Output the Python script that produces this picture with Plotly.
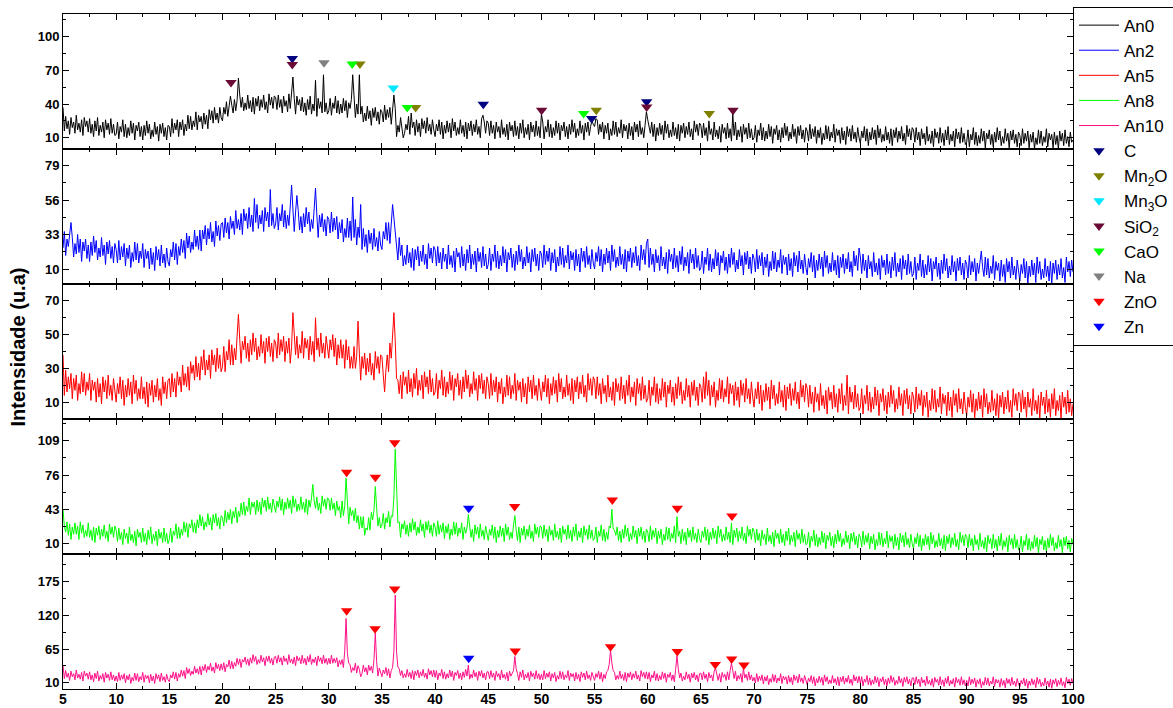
import numpy as np
import plotly.graph_objects as go
from plotly.subplots import make_subplots

# 2-theta sampling grid (degrees), 0.125 deg step, 5..100
two_theta = np.linspace(5, 100, 761)

# intensities, one row per 5-degree block (40 samples each) + final point at 100
an0_rows = [
    [37,16,29,18,25,13,28,19,24,14,30,17,23,15,26,12,28,20,25,15,27,14,22,11,25,16,28,12,21,15,24,10,26,17,23,13,27,14,22,12],
    [13,24,9,20,15,26,11,22,10,19,12,25,14,23,8,21,16,24,11,20,8,21,12,25,14,22,9,17,11,24,13,20,7,22,14,23,11,19,8,21],
    [20,11,27,14,23,17,26,11,24,17,26,12,22,16,30,18,29,17,25,20,33,17,30,24,29,18,32,22,30,18,35,26,34,23,37,26,32,23,37,28],
    [25,37,31,42,29,41,47,39,32,44,34,43,63,48,37,46,34,41,35,48,36,43,33,46,31,45,38,47,34,44,37,48,35,42,32,49,39,46,36,47],
    [46,35,48,37,44,32,47,38,43,33,49,36,50,64,45,31,47,39,44,34,46,33,41,30,44,35,47,31,40,34,61,29,45,36,42,32,66,33,41,31],
    [34,45,30,41,36,47,32,43,31,40,32,45,34,43,28,41,36,44,66,40,28,40,31,66,31,38,24,32,25,38,27,34,21,36,28,37,25,33,22,35],
    [33,24,39,26,35,28,37,22,38,48,36,11,21,15,28,16,10,14,22,17,29,13,32,19,24,12,26,15,23,11,27,18,25,14,28,16,22,13,26,17],
    [11,22,16,26,13,24,9,21,14,25,15,23,10,27,16,24,12,19,13,26,14,21,11,24,9,23,16,25,12,22,15,26,13,20,10,27,30,24,14,25],
    [23,12,25,14,21,9,24,15,20,10,26,13,19,11,22,8,24,16,21,11,25,12,20,9,23,14,26,10,19,13,22,8,24,15,21,11,25,12,20,10],
    [31,24,9,20,15,26,11,22,10,19,12,25,14,23,8,21,16,24,11,20,9,22,13,26,15,23,10,18,12,25,14,21,8,23,15,24,12,20,25,22],
    [20,27,26,13,22,15,24,9,21,14,23,8,18,12,25,13,24,11,19,14,26,10,22,16,21,9,23,12,20,8,24,15,22,11,25,13,19,10,23,33],
    [26,20,14,24,11,22,7,19,12,23,13,21,8,25,14,22,10,17,11,24,12,19,9,22,7,21,14,23,10,20,13,24,11,18,8,25,15,22,12,23],
    [21,10,23,12,19,7,25,13,18,8,24,11,17,9,20,6,22,14,19,9,23,10,18,7,31,12,24,8,17,11,20,6,22,13,19,9,23,10,18,8],
    [10,21,6,17,12,23,8,19,7,16,9,22,11,20,5,18,13,21,8,17,6,19,10,23,12,20,7,15,9,22,11,18,5,20,12,21,9,17,6,19],
    [16,7,22,9,18,11,20,5,17,10,19,4,14,8,21,9,20,7,15,10,22,6,18,12,17,5,19,8,16,4,20,11,18,7,21,9,15,6,19,10],
    [5,16,10,20,7,18,3,15,8,19,9,17,4,21,10,18,6,13,7,20,8,15,5,18,3,17,10,19,6,16,9,20,7,14,4,21,11,18,8,19],
    [17,6,19,8,15,3,18,9,14,4,20,7,13,5,16,2,18,10,15,5,19,6,14,3,17,8,20,4,13,7,16,2,18,9,15,5,19,6,14,4],
    [6,17,2,13,8,19,4,15,3,12,5,18,7,16,1,14,9,17,4,13,2,15,6,19,8,16,3,11,5,18,7,14,1,16,8,17,5,13,2,15],
    [12,3,18,5,14,7,16,1,13,6,15,0,10,4,17,5,16,3,11,6,18,2,14,8,13,1,15,4,12,0,16,7,14,3,17,5,11,2,15,6],
    [8],
]

an2_rows = [
    [24,35,19,30,25,35,41,31,18,27,20,33,21,30,15,28,22,30,17,26,15,28,19,32,21,29,16,24,18,31,19,26,13,28,20,29,17,25,14,27],
    [23,14,29,16,25,18,27,12,24,17,26,11,21,15,28,16,27,14,22,17,27,11,23,17,22,10,24,13,21,9,25,16,23,12,26,14,20,11,24,15],
    [12,23,18,28,16,27,13,25,19,30,21,29,17,34,24,32,21,28,23,36,25,32,23,36,22,36,30,39,26,37,30,41,28,35,25,42,32,39,29,40],
    [41,31,44,34,41,30,45,37,42,33,49,37,43,36,47,33,50,42,47,37,51,38,46,35,57,41,53,37,46,40,49,35,51,42,48,38,63,39,47,37],
    [40,51,36,47,42,53,38,49,37,46,39,52,66,50,35,48,59,49,36,45,34,47,38,51,40,48,35,43,37,50,64,46,31,46,38,47,35,43,32,45],
    [43,34,48,35,44,36,45,30,41,34,43,28,37,31,44,31,42,29,58,31,43,26,38,31,53,23,37,25,33,21,36,27,34,23,37,25,31,22,35,26],
    [23,35,30,41,29,41,27,40,53,44,35,30,16,31,19,26,12,19,13,26,14,21,11,24,9,23,16,25,12,22,15,26,13,20,10,27,17,24,14,25],
    [23,12,25,14,21,10,24,15,20,10,26,13,19,11,22,8,24,18,21,11,25,12,20,9,23,14,26,10,20,13,22,8,24,15,21,11,25,12,20,10],
    [13,24,9,20,15,26,11,22,10,19,12,25,14,23,8,21,16,24,11,20,9,22,13,26,15,23,10,18,12,25,14,21,8,23,15,24,12,20,9,22],
    [20,11,26,13,22,15,24,9,21,14,23,8,18,12,25,13,24,11,19,14,26,10,22,16,21,9,23,12,20,8,24,15,22,11,25,13,19,10,23,14],
    [10,21,15,25,12,23,8,20,13,24,14,22,9,26,15,23,11,18,12,25,13,20,10,23,8,22,15,24,11,21,14,25,12,19,9,26,16,23,13,27],
    [30,11,24,13,20,8,23,14,19,9,25,12,18,10,21,7,23,15,20,10,24,11,19,8,22,13,25,9,18,12,21,7,23,14,20,10,24,11,19,9],
    [11,22,7,18,13,24,9,20,8,17,10,23,12,21,6,19,14,22,9,18,7,20,11,24,13,21,8,16,10,23,12,19,6,21,13,22,10,18,7,20],
    [17,8,23,10,19,12,21,6,18,11,20,5,15,9,22,10,21,8,16,11,23,7,19,13,18,6,20,9,17,5,21,12,19,8,22,10,16,7,20,11],
    [6,17,11,21,8,19,4,16,9,20,10,18,5,22,11,19,7,14,8,21,9,16,6,19,4,18,11,20,7,17,10,21,8,15,5,22,12,19,9,24],
    [18,7,20,9,16,4,19,10,15,5,21,8,14,6,17,3,19,11,16,6,20,7,15,4,18,9,21,5,14,8,17,3,19,10,16,6,20,7,15,5],
    [7,18,3,14,9,20,5,16,4,13,6,19,8,17,2,15,10,18,5,14,3,16,7,20,9,17,4,12,6,19,8,15,2,17,9,18,6,14,3,16],
    [13,4,19,6,15,8,17,2,14,7,16,22,11,5,18,6,17,4,12,7,19,3,15,9,14,2,16,5,13,1,17,8,15,4,18,6,12,3,16,7],
    [2,13,7,17,4,15,0,12,5,16,6,14,1,18,7,15,3,10,4,17,5,12,2,15,0,14,7,16,3,13,6,17,4,11,1,18,8,15,5,16],
    [8],
]

an5_rows = [
    [38,14,29,16,25,18,27,12,24,17,26,11,21,15,28,16,27,14,22,17,27,11,23,17,22,10,24,13,21,9,25,16,23,12,26,14,20,11,24,15],
    [10,21,15,25,12,23,8,20,13,24,14,22,9,26,15,23,11,18,12,25,12,19,9,22,7,21,14,23,10,20,13,24,11,18,8,25,15,22,12,23],
    [24,13,27,16,24,13,28,20,25,16,32,20,27,19,31,17,34,27,32,23,37,25,33,23,37,29,41,26,35,29,38,24,41,32,38,28,42,30,38,28],
    [31,43,28,40,35,47,32,44,32,42,35,49,62,47,33,46,41,49,36,45,34,47,38,51,40,48,35,43,37,50,39,46,33,48,40,49,37,45,34,47],
    [45,36,51,38,47,40,49,34,46,39,48,33,43,63,50,38,49,36,44,39,52,36,48,42,47,35,49,38,46,34,60,41,48,37,51,39,45,36,49,40],
    [36,47,41,50,37,48,32,44,36,47,36,44,30,47,35,43,30,37,30,43,30,37,58,39,23,37,30,39,26,36,28,39,26,33,23,40,30,37,27,38],
    [37,26,16,29,38,28,45,36,48,63,46,24,23,15,26,12,28,20,25,15,29,16,24,13,27,18,30,14,23,17,26,12,28,19,25,15,29,16,24,14],
    [16,27,12,23,18,29,14,25,13,22,15,28,17,26,11,24,19,27,14,23,12,25,16,29,18,26,13,21,15,28,17,24,11,26,18,27,15,23,12,25],
    [21,12,27,14,23,16,25,10,22,15,24,9,19,13,26,14,25,12,20,15,27,11,23,17,22,10,24,13,21,9,25,16,23,12,26,14,20,11,24,15],
    [11,22,16,26,13,24,9,21,14,25,15,23,10,27,16,24,12,19,13,26,14,21,11,24,9,23,16,25,12,22,15,26,13,20,10,27,17,24,14,25],
    [23,12,25,14,21,9,24,15,20,10,26,13,19,11,22,8,24,16,21,11,25,12,20,9,23,14,26,10,19,13,22,8,24,15,21,11,25,12,20,10],
    [12,23,8,19,14,25,10,21,9,18,11,24,13,22,7,20,15,23,10,19,8,21,12,25,14,22,9,17,11,24,13,20,7,22,14,23,11,19,8,21],
    [19,10,25,12,28,14,23,8,20,13,22,7,17,11,24,12,23,10,18,13,25,9,21,15,20,8,22,11,19,7,23,14,21,10,24,12,18,9,22,13],
    [7,18,12,22,9,20,5,17,10,21,11,19,6,23,12,20,8,15,9,22,10,17,7,20,5,19,12,21,8,18,11,22,9,16,6,23,13,20,10,21],
    [18,7,20,9,16,4,19,10,15,5,21,8,14,6,17,3,19,11,16,6,20,7,15,4,18,9,21,5,14,8,26,3,19,10,16,6,20,7,15,5],
    [7,18,3,14,9,20,5,16,4,13,6,19,8,17,2,15,10,18,5,14,3,16,7,20,9,17,4,12,6,19,8,15,2,17,9,18,6,14,3,16],
    [13,4,19,6,15,8,17,2,14,7,16,1,11,5,18,6,17,4,12,7,19,3,15,9,14,2,16,5,13,1,17,8,15,4,18,6,12,3,16,7],
    [2,13,7,17,4,15,0,12,5,16,6,14,1,18,7,15,3,10,4,17,5,12,2,15,0,14,7,16,3,13,6,17,4,11,1,18,8,15,5,16],
    [15,4,17,6,13,1,16,7,12,2,18,5,11,3,14,0,16,8,13,3,17,4,12,1,15,6,18,2,11,5,14,0,16,7,13,3,17,4,12,2],
    [9],
]

an8_rows = [
    [43,27,21,31,18,29,14,26,19,30,19,27,14,31,20,28,16,23,17,30,16,23,13,26,11,25,18,27,14,24,17,28,15,22,12,29,19,26,16,27],
    [23,12,25,14,21,9,24,15,20,10,26,13,19,11,22,8,24,16,21,11,25,12,20,9,23,14,26,10,19,13,22,8,24,15,21,11,25,12,20,10],
    [14,25,11,22,18,29,15,26,15,24,18,31,21,30,16,29,25,33,21,30,20,33,25,38,27,36,23,31,26,39,28,35,23,38,30,39,27,35,24,37],
    [35,27,42,30,40,33,43,29,41,35,45,30,41,36,49,38,50,37,46,41,54,38,50,45,50,38,52,41,50,38,54,45,52,41,55,43,49,40,53,44],
    [40,51,45,55,42,53,38,50,43,54,44,52,39,56,45,53,41,48,42,55,43,50,40,53,38,52,45,54,67,51,44,55,42,49,39,56,46,53,43,54],
    [53,42,54,43,49,37,51,42,46,35,51,37,46,73,50,29,45,37,42,32,44,30,37,24,36,25,36,18,25,23,35,23,40,33,42,65,44,27,35,25],
    [28,39,24,35,30,41,26,37,36,55,101,60,30,31,16,29,24,32,19,28,17,30,21,34,23,31,18,26,20,33,22,29,16,31,23,32,20,28,17,30],
    [26,17,32,19,28,21,30,15,27,20,29,14,24,18,31,19,30,17,25,20,30,14,26,20,25,38,27,16,24,12,28,19,26,15,29,17,23,14,27,18],
    [13,24,18,28,15,26,11,23,16,27,17,25,12,29,18,26,14,21,15,28,37,23,13,26,11,25,18,27,14,24,17,28,15,22,12,29,19,26,16,27],
    [26,15,28,17,24,12,27,18,23,13,29,16,22,14,25,11,27,19,24,14,28,15,23,12,26,17,29,13,22,16,25,11,27,18,24,14,28,15,23,13],
    [15,26,11,22,17,28,13,24,12,21,14,27,25,43,24,23,18,26,13,22,11,24,15,28,17,25,12,20,14,27,16,23,10,25,17,26,14,22,11,24],
    [21,12,27,14,23,16,25,10,22,15,24,9,19,13,26,14,25,12,20,15,27,11,36,17,22,10,24,13,21,9,25,16,23,12,26,14,20,11,24,15],
    [11,22,16,26,13,24,9,21,14,25,15,23,10,27,16,24,12,19,13,26,14,21,11,30,9,23,16,25,12,22,15,26,13,20,10,27,17,24,14,25],
    [22,11,24,13,20,8,23,14,19,9,25,12,18,10,21,7,23,15,20,10,24,11,19,8,22,13,25,9,18,12,21,7,23,14,20,10,24,11,19,9],
    [10,21,6,17,12,23,8,19,7,16,9,22,11,20,5,18,13,21,8,17,6,19,10,23,12,20,7,15,9,22,11,18,5,20,12,21,9,17,6,19],
    [16,7,22,9,18,11,20,5,17,10,19,4,14,8,21,9,20,7,15,10,22,6,18,12,17,5,19,8,16,4,20,11,18,7,21,9,15,6,19,10],
    [5,16,10,20,7,18,3,15,8,19,9,17,4,21,10,18,6,13,7,20,8,15,5,18,3,17,10,19,6,16,9,20,7,14,4,21,11,18,8,19],
    [17,6,19,8,15,3,18,9,14,4,20,7,13,5,16,2,18,10,15,5,19,6,14,3,17,8,20,4,13,7,16,2,18,9,15,5,19,6,14,4],
    [6,17,2,13,8,19,4,15,3,12,5,18,7,16,1,14,9,17,4,13,2,15,6,19,8,16,3,11,5,18,7,14,1,16,8,17,5,13,2,15],
    [9],
]

an10_rows = [
    [39,17,30,19,26,14,29,20,25,15,31,18,24,16,27,13,29,21,26,16,28,15,23,12,26,17,29,13,22,16,25,11,27,18,24,14,28,15,23,13],
    [21,12,27,14,23,16,25,10,22,15,24,9,19,13,26,14,25,12,20,15,27,11,23,17,22,10,24,13,21,9,25,16,23,12,26,14,20,11,24,15],
    [12,23,18,28,16,27,13,25,19,31,21,30,17,35,25,33,22,29,24,37,26,33,24,37,23,37,30,40,27,37,31,42,29,36,26,43,33,40,30,41],
    [31,43,28,40,36,47,33,45,33,43,37,50,40,49,35,48,44,52,40,49,38,51,42,56,45,53,40,48,42,55,44,51,38,53,45,54,42,50,39,52],
    [53,42,55,44,51,39,54,45,50,40,56,43,49,41,52,38,54,46,51,41,55,42,50,39,53,44,56,40,49,43,52,38,54,45,51,41,55,42,50,40],
    [50,41,55,42,50,43,51,36,47,40,48,35,62,115,58,42,40,27,35,30,42,26,38,32,20,25,39,28,35,23,39,30,37,26,48,91,45,21,34,25],
    [20,31,25,35,22,33,18,30,35,62,153,60,36,33,22,30,18,25,19,32,20,27,17,30,15,29,22,31,18,28,21,32,19,26,16,33,23,30,20,31],
    [19,30,15,26,21,32,17,28,16,25,18,31,20,29,14,27,22,30,17,26,15,28,19,32,21,39,16,24,18,31,20,27,14,29,21,30,18,26,15,28],
    [28,17,30,19,26,14,29,20,25,15,31,18,24,16,27,13,29,21,26,30,53,33,25,14,28,19,31,15,24,18,27,13,29,20,26,16,30,17,25,15],
    [24,15,30,17,26,19,28,13,25,18,27,12,22,16,29,17,28,15,23,18,30,14,26,20,25,13,27,16,24,12,28,19,26,15,29,17,23,14,27,18],
    [14,25,19,29,16,27,12,24,17,28,30,40,63,42,30,27,15,22,16,29,17,24,14,27,12,26,19,28,15,25,18,29,16,23,13,30,20,27,17,28],
    [16,27,12,23,18,29,14,25,13,22,15,28,17,26,11,24,19,27,14,23,12,32,54,33,18,26,13,21,15,28,17,24,11,26,18,27,15,23,12,25],
    [26,15,28,17,24,12,27,18,23,13,29,34,22,14,25,11,27,19,24,14,28,15,30,42,30,17,29,13,22,16,25,11,34,18,24,14,28,15,23,13],
    [19,10,25,12,21,14,23,8,20,13,22,7,17,11,24,12,23,10,18,13,25,9,21,15,20,8,22,11,19,7,23,14,21,10,24,12,18,9,22,13],
    [7,18,12,22,9,20,5,17,10,21,11,19,6,23,12,20,8,15,9,22,10,17,7,20,5,19,12,21,8,18,11,22,9,16,6,23,13,20,10,21],
    [9,20,5,16,11,22,7,18,6,15,8,21,10,19,4,17,12,20,7,16,5,18,9,22,11,19,6,14,8,21,10,17,4,19,11,20,8,16,5,18],
    [18,7,20,9,16,4,19,10,15,5,21,8,14,6,17,3,19,11,16,6,20,7,15,4,18,9,21,5,14,8,17,3,19,10,16,6,20,7,15,5],
    [14,5,20,7,16,9,18,3,15,8,17,2,12,6,19,7,18,5,13,8,20,4,16,10,15,3,17,6,14,2,18,9,16,5,19,7,13,4,17,8],
    [3,14,8,18,5,16,1,13,6,17,7,15,2,19,8,16,4,11,5,18,6,13,3,16,1,15,8,17,4,14,7,18,5,12,2,19,9,16,6,17],
    [9],
]

# Phase markers (2-theta, marker height)
c_x = [26.57, 44.53, 54.72, 59.9]
c_y = [80.5, 39.8, 27.1, 41.9]
mn2o_x = [32.93, 38.17, 55.16, 65.79]
mn2o_y = [75.5, 36.9, 34.5, 31.5]
mn3o_x = [36.07]
mn3o_y = [54.3]
sio2_x = [20.8, 26.57, 50.02, 59.9, 68.02]
sio2_y = [59.2, 75.2, 34.5, 37.4, 34.5]
cao_x = [32.2, 37.38, 53.97]
cao_y = [75.5, 36.9, 31.5]
na_x = [29.55]
na_y = [76.6]
zno8_x = [31.68, 34.38, 36.2, 47.48, 56.67, 62.78, 67.92]
zno8_y = [78.7, 73.9, 107.2, 45.7, 52.1, 44.1, 36.7]
zn8_x = [43.16]
zn8_y = [44.1]
zno10_x = [31.68, 34.35, 36.2, 47.54, 56.5, 62.78, 66.35, 67.89, 69.05]
zno10_y = [127.6, 98.3, 163, 62, 69, 61, 40, 49, 39]
zn10_x = [43.16]
zn10_y = [50]

series_names = ["An0", "An2", "An5", "An8", "An10"]
series_rows = [an0_rows, an2_rows, an5_rows, an8_rows, an10_rows]
series_colors = ["#000000", "#0000ff", "#ff0000", "#00ff00", "#ff0f87"]
y_ranges = [[0, 120], [0, 90], [0, 80], [0, 130], [0, 220]]
y_dticks = [30, 23, 20, 33, 55]

series_data = []
for n, rows in zip(series_names, series_rows):
    for j, r in enumerate(rows[:-1]):
        assert len(r) == 40, (n, j, len(r))
    flat = [v for r in rows for v in r]
    assert len(flat) == len(two_theta), (n, len(flat))
    series_data.append(flat)

FONT = "Arial, Liberation Sans, sans-serif"

fig = make_subplots(rows=5, cols=1, shared_xaxes=True, vertical_spacing=0)

for i, (n, d, c) in enumerate(zip(series_names, series_data, series_colors)):
    fig.add_trace(go.Scatter(x=two_theta, y=d, mode="lines", name=n,
                             line=dict(color=c, width=1)), row=i + 1, col=1)

def add_markers(xs, ys, name, color, row, show=True, group=None):
    fig.add_trace(go.Scatter(x=xs, y=ys, mode="markers", name=name,
                             legendgroup=group or name, showlegend=show,
                             marker=dict(symbol="triangle-down", size=10, color=color,
                                         line=dict(width=0)),
                             cliponaxis=False), row=row, col=1)

add_markers(c_x, c_y, "C", "#000080", 1)
add_markers(mn2o_x, mn2o_y, "Mn<sub>2</sub>O", "#808000", 1)
add_markers(mn3o_x, mn3o_y, "Mn<sub>3</sub>O", "#00e8ff", 1)
add_markers(sio2_x, sio2_y, "SiO<sub>2</sub>", "#6a0a36", 1)
add_markers(cao_x, cao_y, "CaO", "#00ff00", 1)
add_markers(na_x, na_y, "Na", "#808080", 1)
add_markers(zno8_x, zno8_y, "ZnO", "#ff0000", 4, True, "ZnO")
add_markers(zn8_x, zn8_y, "Zn", "#0000ff", 4, True, "Zn")
add_markers(zno10_x, zno10_y, "ZnO", "#ff0000", 5, False, "ZnO")
add_markers(zn10_x, zn10_y, "Zn", "#0000ff", 5, False, "Zn")

for r in range(1, 6):
    dt = y_dticks[r - 1]
    fig.update_yaxes(row=r, col=1, range=y_ranges[r - 1], tick0=10, dtick=dt,
                     ticks="inside", ticklen=6, tickwidth=1, tickcolor="black",
                     minor=dict(tick0=10, dtick=dt / 2, ticks="inside", ticklen=3,
                                tickcolor="black", showgrid=False),
                     showline=True, linecolor="black", linewidth=1, mirror="ticks",
                     showgrid=False, zeroline=False,
                     tickfont=dict(family=FONT, size=13, color="black", weight="bold"))
    fig.update_xaxes(row=r, col=1, range=[5, 100], tick0=5, dtick=5,
                     ticks="inside", ticklen=6, tickwidth=1, tickcolor="black",
                     minor=dict(tick0=5, dtick=2.5, ticks="inside", ticklen=3,
                                tickcolor="black", showgrid=False),
                     showline=True, linecolor="black", linewidth=1, mirror="ticks",
                     showgrid=False, zeroline=False, ticklabelstandoff=-3,
                     tickfont=dict(family=FONT, size=14, color="black", weight="bold"))

fig.add_annotation(text="Intensidade (u.a)", xref="paper", yref="paper",
                   x=0, y=0.506, xshift=-45, textangle=-90, showarrow=False,
                   xanchor="center", yanchor="middle",
                   font=dict(family=FONT, size=20, color="black", weight="bold"))

fig.update_layout(
    width=1173, height=708,
    margin=dict(l=63, r=100, t=14, b=19, autoexpand=False),
    plot_bgcolor="white", paper_bgcolor="white",
    showlegend=True,
    legend=dict(x=1.0, xanchor="left", y=1.011, yanchor="top",
                bordercolor="black", borderwidth=1, bgcolor="white",
                font=dict(family=FONT, size=17, color="black"),
                tracegroupgap=0, itemwidth=40, traceorder="normal"),
)

fig.write_html("out.html")
